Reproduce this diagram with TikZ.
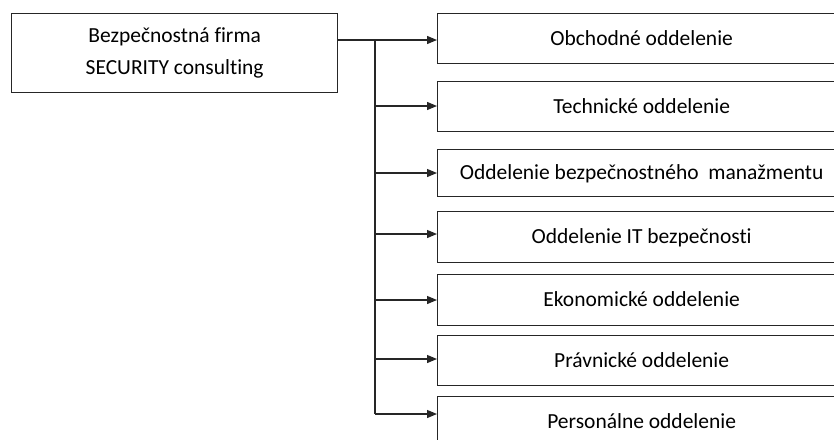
\documentclass[tikz,border=0pt]{standalone}
\usepackage{fontspec}
\setmainfont{Carlito}[Ligatures={NoCommon}]
\usetikzlibrary{arrows.meta}
\begin{document}
\begin{tikzpicture}[x=1pt,y=-1pt,
  dept/.style={draw=black!85,line width=1.3pt,minimum width=408pt,anchor=north west,inner sep=0pt,font=\fontsize{21.5}{24}\selectfont,text depth=0pt},
  conn/.style={line width=1.2pt,black!85},
  arr/.style={conn,-{Triangle[length=10pt,width=8pt]}}]
\clip (0,0) rectangle (834,439);
\fill[white] (0,0) rectangle (834,439);
\node[draw=black!85,line width=1.3pt,minimum width=326pt,minimum height=79pt,anchor=north west,align=center,font=\fontsize{21.5}{32}\selectfont] (main) at (11,13) {Bezpečnostná firma\\SECURITY consulting};
\node[dept,minimum height=50pt] (d1) at (437,13) {\raisebox{2pt}{Obchodné oddelenie}};
\node[dept,minimum height=50pt] (d2) at (437,81) {\raisebox{2pt}{Technické oddelenie}};
\node[dept,minimum height=47pt] (d3) at (437,149) {\raisebox{2pt}{Oddelenie bezpečnostného\ \ manažmentu}};
\node[dept,minimum height=51pt] (d4) at (437,211) {\raisebox{2pt}{Oddelenie IT bezpečnosti}};
\node[dept,minimum height=51pt] (d5) at (437,274) {\raisebox{2pt}{Ekonomické oddelenie}};
\node[dept,minimum height=50pt] (d6) at (437,335) {\raisebox{2pt}{Právnické oddelenie}};
\node[dept,minimum height=50pt] (d7) at (437,396) {\raisebox{2pt}{Personálne oddelenie}};
\coordinate (t1) at (375,40);
\coordinate (t2) at (375,106);
\coordinate (t3) at (375,173);
\coordinate (t4) at (375,234);
\coordinate (t5) at (375,300);
\coordinate (t6) at (375,359);
\coordinate (t7) at (375,414);
\draw[conn] (main.east |- t1) -- (t1);
\draw[conn] (t1) -- (t7);
\foreach \i in {1,...,7}{\draw[arr] (t\i) -- (t\i -| d\i.west);}
\end{tikzpicture}
\end{document}
